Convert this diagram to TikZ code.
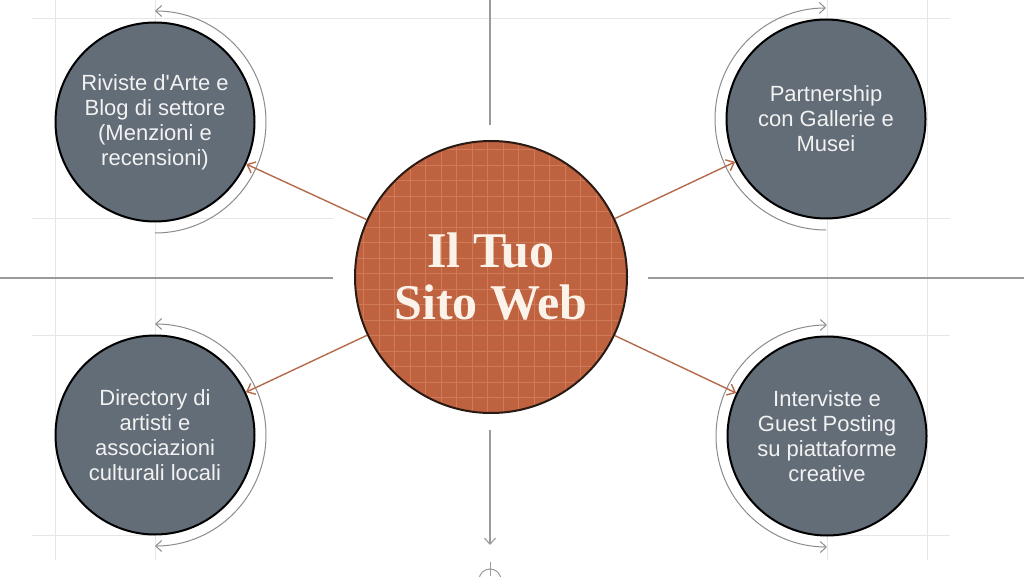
\documentclass[tikz,border=0pt]{standalone}
\usepackage{fontspec}
\setmainfont{Liberation Serif}
\setsansfont{Liberation Sans}
\usetikzlibrary{arrows.meta,calc}
\definecolor{hubfill}{HTML}{BF6240}
\definecolor{hubgrid}{HTML}{CF7A58}
\definecolor{hubline}{HTML}{2A1A14}
\definecolor{satfill}{HTML}{626D77}
\definecolor{sattext}{HTML}{F2F2F2}
\definecolor{titletext}{HTML}{FBF3EA}
\definecolor{linkcol}{HTML}{B56A4A}
\definecolor{faintgrid}{HTML}{E6E6E6}
\definecolor{axiscol}{HTML}{9A9A9A}
\definecolor{arccol}{HTML}{8C8C8C}
\tikzset{
  hub/.style={circle, minimum size=272pt, inner sep=0pt, fill=hubfill, draw=hubline, line width=2pt,
    text=titletext, align=center, font=\bfseries\fontsize{50}{52}\selectfont,
    path picture={\draw[hubgrid, line width=0.6pt, step=15.5pt] ([xshift=-2pt,yshift=-2pt]path picture bounding box.south west) grid ([xshift=2pt,yshift=2pt]path picture bounding box.north east);}},
  sat/.style={circle, minimum size=199pt, inner sep=0pt, fill=satfill, draw=black, line width=2pt,
    text=sattext, align=center, font=\sffamily\fontsize{22}{25}\selectfont},
  link/.style={draw=linkcol, line width=1.4pt, -{Straight Barb[length=7pt,width=12pt]}},
  faint/.style={draw=faintgrid, line width=1pt},
  axis/.style={draw=axiscol, line width=1.2pt},
  turn/.style={draw=arccol, line width=1pt},
  barb/.tip={Straight Barb[length=6pt,width=11pt]}
}
\begin{document}
\begin{tikzpicture}[x=1pt,y=1pt]
\useasboundingbox[fill=white] (0,0) rectangle (1024,576);
% faint guide lines
\draw[faint] (55,576) -- (55,16);
\draw[faint] (155,576) -- (155,16);
\draw[faint] (827,576) -- (827,16);
\draw[faint] (927,576) -- (927,16);
\draw[faint] (32,557) -- (950,557);
\draw[faint] (32,357) -- (333,357);
\draw[faint] (827,357) -- (950,357);
\draw[faint] (32,241) -- (155,241);
\draw[faint] (827,241) -- (950,241);
\draw[faint] (32,41) -- (155,41);
\draw[faint] (827,41) -- (950,41);
% axes
\draw[axis] (0,298) -- (333,298);
\draw[axis] (648,298) -- (1024,298);
\draw[axis] (490,576) -- (490,451);
\coordinate (downstart) at (490,146);
\coordinate (downend) at (490,31);
\draw[axis, line width=1.1pt, -{Straight Barb[length=6pt,width=11pt]}] (downstart) -- (downend);
\draw[axis, line width=1pt] (490,-4) circle (11);
\draw[axis, line width=1pt] (490,14) -- (490,0);
% satellite nodes
\node[sat] (tl) at (155,454) {Riviste d\textquotesingle Arte e\\Blog di settore\\(Menzioni e\\recensioni)};
\node[sat] (tr) at (826,457) {Partnership\\con Gallerie e\\Musei};
\node[sat] (bl) at (155,141) {Directory di\\artisti e\\associazioni\\culturali locali};
\node[sat] (br) at (827,140) {Interviste e\\Guest Posting\\su piattaforme\\creative};
% turning arcs
\draw[turn, {barb}-] ($(tl.center)+(0,111)$) arc[start angle=90, end angle=-90, radius=111];
\draw[turn, {barb}-] ($(tr.center)+(0,111)$) arc[start angle=90, end angle=270, radius=111];
\draw[turn, {barb}-{barb}] ($(bl.center)+(0,111)$) arc[start angle=90, end angle=-90, radius=111];
\draw[turn, {barb}-{barb}] ($(br.center)+(0,111)$) arc[start angle=90, end angle=270, radius=111];
% hub
\node[hub] (hub) at (491,299) {Il Tuo\\Sito Web};
% links
\draw[link] (hub) -- (tl);
\draw[link] (hub) -- (tr);
\draw[link] (hub) -- (bl);
\draw[link] (hub) -- (br);
\end{tikzpicture}
\end{document}
